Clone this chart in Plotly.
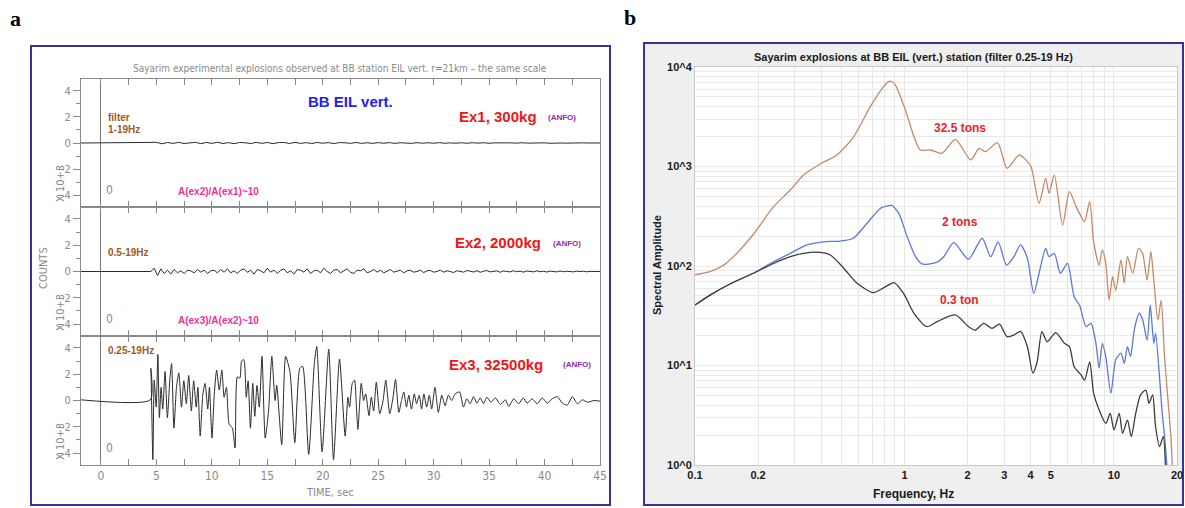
import numpy as np
import plotly.graph_objects as go

W, H = 1185, 508
def px(x): return x / W
def py(y): return 1 - y / H

# ---------------- data: seismograms (time, s ; counts x 10^3) ----------------
pre_t = [-1.8, 4.45]
ex1_pre = [0.0, 0.0]
ex2_pre = [0.0, 0.0]
ex3_pre = [0.05, 0.05]

ex1_t0, ex1_dt = 4.5, 0.5
ex1_amp = [0.0, 0.05, -0.06, 0.04, -0.03, 0.05, -0.04, 0.03, 0.05, -0.05, 0.04, -0.03, 0.06, -0.04,
           0.03, -0.05, 0.04, 0.02, -0.04, 0.05, -0.03, 0.04, -0.05, 0.03, 0.04, -0.04, 0.05, -0.03,
           0.03, -0.04, 0.04, -0.02, 0.03, -0.04, 0.03, 0.02, -0.03, 0.04, -0.03, 0.02, -0.03, 0.03,
           -0.02, 0.03, -0.03, 0.02, 0.02, -0.03, 0.03, -0.02, 0.02, -0.02, 0.03, -0.02, 0.01, -0.02,
           0.02, -0.02, 0.02, -0.01, 0.02, -0.02, 0.01, 0.02, -0.02, 0.01, -0.01, 0.02, -0.01, 0.01,
           -0.01, 0.01, -0.02, 0.01, 0.0, -0.01, 0.01, -0.01, 0.01, 0.0, -0.01, 0.0]

ex2_t0, ex2_dt = 4.5, 0.3
ex2_amp = [0.0, 0.25, -0.3, 0.2, -0.15, 0.1, -0.2, 0.15, -0.1, 0.05, -0.15, 0.1, 0.05, -0.1, 0.15,
           -0.05, 0.1, -0.15, 0.05, 0.1, -0.1, 0.15, -0.05, 0.2, -0.1, 0.05, -0.15, 0.1, 0.2, -0.05,
           0.1, -0.2, 0.15, 0.05, -0.1, 0.25, -0.05, 0.1, -0.15, 0.1, 0.2, -0.1, 0.05, -0.2, 0.15,
           0.1, -0.05, 0.2, -0.15, 0.05, 0.1, -0.1, 0.25, 0.0, -0.15, 0.1, 0.15, -0.1, 0.05, 0.2,
           -0.05, -0.15, 0.1, 0.05, 0.2, -0.1, 0.0, 0.15, -0.05, 0.1, -0.1, 0.05, 0.15, -0.05, 0.0,
           0.1, -0.1, 0.05, 0.1, -0.05, 0.0, 0.1, -0.08, 0.05, 0.08, -0.05, 0.0, 0.1, -0.05, 0.05,
           0.0, -0.08, 0.06, 0.03, -0.05, 0.08, 0.0, -0.04, 0.06, -0.06, 0.02, 0.07, -0.03, 0.0,
           0.05, -0.06, 0.04, 0.0, -0.03, 0.06, -0.02, 0.03, -0.05, 0.04, 0.0, -0.03, 0.05, -0.02,
           0.02, -0.04, 0.03, 0.0, -0.03, 0.04, -0.02, 0.02, 0.0, -0.03, 0.03, -0.01, 0.02, -0.02,
           0.01, 0.0, -0.01, 0.0]

ex3_t = [4.50, 4.68, 4.80, 4.98, 5.13, 5.27, 5.42, 5.57, 5.78, 5.99, 6.22, 6.37, 6.58, 6.81, 7.02,
         7.26, 7.47, 7.70, 7.91, 8.15, 8.36, 8.59, 8.74, 8.95, 9.19, 9.39, 9.63, 9.78, 10.01, 10.22,
         10.43, 10.67, 10.90, 11.11, 11.32, 11.56, 11.85, 12.09, 12.30, 12.53, 12.68, 12.89, 13.10,
         13.27, 13.48, 13.69, 13.87, 14.07, 14.28, 14.52, 14.81, 15.11, 15.41, 15.70, 15.85, 16.30,
         16.65, 17.04, 17.48, 17.93, 18.19, 18.73, 19.24, 19.46, 19.94, 20.54, 20.97, 21.51, 22.02,
         22.27, 22.42, 22.66, 22.87, 23.02, 23.17, 23.47, 23.69, 23.87, 24.17, 24.38, 24.59, 24.83,
         25.14, 25.44, 25.68, 26.04, 26.34, 26.56, 26.86, 27.10, 27.31, 27.55, 27.76, 28.00, 28.25,
         28.46, 28.70, 28.91, 29.12, 29.37, 29.61, 29.82, 30.12, 30.42, 30.73, 31.03, 31.33, 31.63,
         31.93, 32.33, 32.69, 32.99, 33.29, 33.60, 33.90, 34.20, 34.50, 34.80, 35.17, 35.56, 36.01,
         36.47, 36.77, 37.22, 37.67, 38.07, 38.43, 38.88, 39.34, 39.79, 40.24, 40.69, 41.15, 41.60,
         42.05, 42.51, 42.96, 43.41, 43.87, 44.47, 45.00]
ex3_amp = [2.45, -4.5, 1.55, -0.5, 3.5, -1.3, 1.0, -0.65, 2.2, -1.3, 1.7, 2.8, -2.1, 1.0, 2.1,
           -0.5, 1.5, -0.25, 1.9, -0.8, 1.5, -0.5, 1.0, -2.7, 0.5, 1.3, -0.65, 1.0, -2.85, 0.5,
           2.3, 0.8, 2.3, 0.25, 1.0, -1.8, -2.1, -3.6, 1.8, 1.7, 3.0, 3.1, 0.25,
           1.5, -2.1, 1.3, -1.2, 1.15, -0.5, 3.35, -2.85, -0.8, 3.35, 0.0, 1.15, -3.35,
           3.35, 2.2, -3.2, 2.45, 2.6, -4.1, 2.8, 4.1, -3.9, 3.9, -4.5, 3.15, -2.7,
           0.25, -0.5, 1.3, 1.55, -0.25, -2.2, 1.3, 0.0, 0.5, -1.15, 0.25, -0.8, 1.4,
           -1.0, 0.0, 1.55, -1.0, 0.25, 1.6, -0.9, 0.0, 0.65, -0.5, 0.4, -0.65, 0.5,
           -0.25, 0.4, -0.65, 0.5, -0.5, 0.4, -0.65, 1.0, -0.9, 0.4, -0.4, 0.4, 0.0,
           0.5, 0.65, -0.5, 0.13, -0.25, 0.3, -0.2, 0.2, -0.25, 0.25, -0.13, 0.2, -0.3,
           0.05, -0.45, 0.13, -0.25, 0.2, -0.2, 0.13, -0.25, 0.2, -0.2, 0.13, 0.3, -0.2,
           -0.35, 0.3, -0.25, 0.05, -0.13, 0.0, -0.05]

# ---------------- data: spectra (Hz, spectral amplitude) ----------------
f_325 = [0.1, 0.118, 0.137, 0.164, 0.197, 0.237, 0.285, 0.33, 0.396, 0.476, 0.57, 0.687, 0.783,
         0.84, 0.87, 0.906, 1.01, 1.11, 1.19, 1.33, 1.51, 1.75, 2.07, 2.27, 2.44, 2.78, 3.09, 3.52,
         3.75, 4.02, 4.39, 4.72, 4.9, 5.19, 5.69, 6.13, 6.6, 6.98, 7.24, 7.66, 8.0, 8.5, 8.8, 9.14,
         9.48, 9.85, 10.2, 10.8, 11.2, 11.6, 12.3, 13.1, 13.7, 14.4, 15.0, 15.5, 16.2, 16.8, 17.4,
         18.0, 18.7, 19.0]
a_325 = [82, 88, 102, 145, 230, 395, 580, 820, 1060, 1305, 1965, 3990, 6110,
         7120, 7150, 6590, 3700, 1995, 1465, 1465, 1357, 1877, 1163, 1523, 1410, 1737, 960, 1305,
         1200, 995, 427, 761, 538, 822, 258, 558, 395, 313, 279, 443, 175, 102, 145, 106,
         45.5, 78, 57, 115, 67, 124, 84.5, 150, 134, 72, 139, 72, 28.7, 45, 13.3,
         5.25, 1.93, 1.0]

f_2 = [0.1, 0.118, 0.147, 0.19, 0.237, 0.285, 0.342, 0.41, 0.494, 0.57, 0.663, 0.769, 0.84, 0.87,
       0.94, 1.03, 1.13, 1.21, 1.41, 1.54, 1.72, 2.02, 2.35, 2.58, 2.8, 3.07, 3.33, 3.58, 3.86,
       4.14, 4.39, 4.72, 4.9, 5.19, 5.55, 6.0, 6.46, 6.85, 7.36, 7.77, 8.2, 8.5, 8.8, 9.14, 9.67,
       10.2, 10.8, 11.2, 11.6, 12.0, 12.5, 13.2, 13.7, 14.4, 14.9, 15.5, 15.8, 16.5, 17.0, 17.4,
       17.9]
a_2 = [40.5, 51, 66, 84.5, 110, 134, 163, 175, 178, 190, 269, 380, 404, 408,
       338, 197, 124, 105, 108, 124, 172, 117, 190, 124, 175, 102, 124, 163, 120,
       53, 84.5, 150, 124, 134, 84.5, 106, 49, 40.5, 24.6, 26.5, 16.7, 9.4, 16.7, 12.3, 5.25,
       11.4, 13.3, 10.5, 15.5, 12.3, 22.7, 33.5, 29, 18, 40.5, 16.7, 21, 7.7, 3.3, 2.08,
       1.0]

f_03 = [0.1, 0.118, 0.147, 0.19, 0.237, 0.285, 0.33, 0.396, 0.443, 0.513, 0.594, 0.71, 0.79, 0.857,
        0.89, 0.99, 1.11, 1.28, 1.43, 1.75, 2.02, 2.18, 2.39, 2.62, 2.84, 3.09, 3.33, 3.58, 3.86,
        4.1, 4.3, 4.53, 4.8, 5.27, 5.8, 6.13, 6.46, 6.98, 7.24, 7.66, 8.0, 8.5, 9.14, 9.6, 10.0,
        10.6, 11.0, 11.6, 12.1, 12.7, 13.4, 14.2, 14.7, 15.3, 15.8, 16.5, 17.2, 17.6]
a_03 = [40.5, 51, 66, 84.5, 106, 124, 134, 137, 129, 95, 67, 54, 60, 66,
        68, 53, 33.5, 24.6, 27.6, 32.2, 24.6, 22.7, 26.5, 23.6, 26, 19.5, 20.2, 22, 15.5,
        8.4, 10.9, 21.9, 17.3, 21.4, 16.7, 15.5, 9.7, 8.0, 7.1, 10.9, 5.25, 3.57, 2.62, 3.3, 2.25,
        3.3, 2.08, 2.83, 1.93, 3.3, 5.07, 5.66, 4.17, 5.07, 2.43, 1.53, 1.93, 1.0]

x_labels = {0.1: "0.1", 0.2: "0.2", 1: "1", 2: "2", 3: "3", 4: "4", 5: "5", 10: "10", 20: "20"}
y_labels = {1: "10^0", 10: "10^1", 100: "10^2", 1000: "10^3", 10000: "10^4"}

# ---------------- figure ----------------
fig = go.Figure()
wave_col = "#2b2b2b"
ex1_t = (ex1_t0 + ex1_dt * np.arange(len(ex1_amp))).tolist()
ex2_t = (ex2_t0 + ex2_dt * np.arange(len(ex2_amp))).tolist()

fig.add_trace(go.Scatter(x=pre_t + ex1_t, y=ex1_pre + ex1_amp, mode="lines",
                         line=dict(color=wave_col, width=1), xaxis="x", yaxis="y"))
fig.add_trace(go.Scatter(x=pre_t + ex2_t, y=ex2_pre + ex2_amp, mode="lines",
                         line=dict(color=wave_col, width=1), xaxis="x2", yaxis="y2"))
fig.add_trace(go.Scatter(x=pre_t + ex3_t, y=ex3_pre + ex3_amp, mode="lines",
                         line=dict(color=wave_col, width=1, shape="spline", smoothing=0.6),
                         xaxis="x3", yaxis="y3"))

for f, a, c in [(f_325, a_325, "#c48a68"), (f_2, a_2, "#5b79d6"), (f_03, a_03, "#3c3c3c")]:
    fig.add_trace(go.Scatter(x=f, y=a, mode="lines",
                             line=dict(color=c, width=1.3, shape="spline", smoothing=0.7),
                             xaxis="x4", yaxis="y4"))

gray = "#8a8a8a"
narrow = "Liberation Sans Narrow, DejaVu Sans Condensed, Arial Narrow, sans-serif"
panel_px = [(79, 207), (207, 336), (336, 465)]

layout = dict(width=W, height=H, margin=dict(l=0, r=0, t=0, b=0, autoexpand=False),
              paper_bgcolor="white", plot_bgcolor="white", showlegend=False)

for i, (top, bot) in enumerate(panel_px, start=1):
    xs = "" if i == 1 else str(i)
    layout["xaxis" + xs] = dict(
        domain=[px(81), px(600)], range=[-1.8, 45], anchor="y" + xs, automargin=False,
        showline=True, linecolor=gray, linewidth=1, mirror="allticks",
        ticks="inside", tick0=0, dtick=5, ticklen=6, tickcolor=gray,
        minor=dict(dtick=2.5, tick0=0, ticks="inside", ticklen=6, tickcolor=gray),
        showticklabels=(i == 3), tickfont=dict(family=narrow, size=12, color=gray),
        showgrid=False, zeroline=True, zerolinecolor="#777", zerolinewidth=1)
    layout["yaxis" + xs] = dict(
        domain=[py(bot), py(top)], range=[-4.9, 4.9], anchor="x" + xs, automargin=False,
        showline=True, linecolor=gray, linewidth=1, mirror=True,
        ticks="outside", tickvals=[-4, -2, 0, 2, 4], ticklen=7, tickcolor=gray,
        minor=dict(tickvals=[-3, -1, 1, 3], ticks="outside", ticklen=4, tickcolor=gray),
        tickfont=dict(family=narrow, size=11, color=gray),
        showgrid=False, zeroline=False)
    layout["yaxis" + str(4 + i)] = dict(
        overlaying="y" + xs, anchor="x" + xs, side="right", range=[-4.9, 4.9], automargin=False,
        ticks="inside", dtick=1, tick0=0, ticklen=6, tickcolor=gray,
        showticklabels=False, showline=False, showgrid=False, zeroline=False)

xgrid = [m * 10.0 ** e for e in (-1, 0) for m in range(1, 10)] + [10, 20]
ygrid = [m * 10.0 ** e for e in range(0, 4) for m in range(1, 10)] + [10000]
bold = dict(family="Liberation Sans, Arial, sans-serif", size=11, color="#1a1a1a", weight="bold")
layout["xaxis4"] = dict(
    type="log", domain=[px(695), px(1177)], range=[-1, np.log10(20)], anchor="y4", automargin=False,
    tickvals=xgrid, ticktext=[x_labels.get(round(v, 3) if v < 1 else int(round(v)), "") for v in xgrid],
    ticks="", tickfont=bold, showgrid=True, gridcolor="#e6e6e6", gridwidth=1,
    showline=True, linecolor="#c9c9c9", mirror=True, zeroline=False)
layout["yaxis4"] = dict(
    type="log", domain=[py(465), py(67)], range=[0, 4], anchor="x4", automargin=False,
    tickvals=ygrid, ticktext=[y_labels.get(int(round(v)), "") for v in ygrid],
    ticks="", tickfont=bold, showgrid=True, gridcolor="#e9e9e9", gridwidth=1,
    showline=True, linecolor="#c9c9c9", mirror=True, zeroline=False)

fig.update_layout(**layout)

# frames / backgrounds
navy = "#34349a"
fig.add_shape(type="rect", xref="paper", yref="paper", x0=px(644), x1=px(1183), y0=py(505), y1=py(43),
              fillcolor="#efefef", line=dict(color=navy, width=2), layer="below")
fig.add_shape(type="rect", xref="paper", yref="paper", x0=px(695), x1=px(1177), y0=py(465), y1=py(67),
              fillcolor="white", line=dict(width=0), layer="below")
fig.add_shape(type="rect", xref="paper", yref="paper", x0=px(31), x1=px(610), y0=py(505), y1=py(46),
              fillcolor="rgba(0,0,0,0)", line=dict(color=navy, width=2), layer="above")

def ann(x, y, text, size, color, family="Liberation Sans, Arial, sans-serif", weight="normal",
        xanchor="center", angle=0):
    fig.add_annotation(xref="paper", yref="paper", x=px(x), y=py(y), text=text, showarrow=False,
                       xanchor=xanchor, yanchor="middle", textangle=angle,
                       font=dict(family=family, size=size, color=color, weight=weight))

serif = "Liberation Serif, Times New Roman, serif"
ann(15, 18, "a", 22, "black", family=serif, weight="bold")
ann(630, 17, "b", 22, "black", family=serif, weight="bold")

# left panel texts
ann(340, 69, "Sayarim experimental explosions observed at BB station EIL vert. r=21km \u2013 the same scale",
    10, gray, family=narrow)
ann(350, 102, "BB EIL vert.", 15, "#2323e8", weight="bold")
brown = "#9a5b22"
pink = "#f0309a"
red = "#f01515"
purple = "#8e2aa8"
ann(106, 117, "filter", 10, brown, weight="bold", xanchor="left")
ann(106, 129, "1-19Hz", 10, brown, weight="bold", xanchor="left")
ann(106, 252, "0.5-19Hz", 10, brown, weight="bold", xanchor="left")
ann(106, 350, "0.25-19Hz", 10, brown, weight="bold", xanchor="left")
ann(498, 116, "Ex1, 300kg", 15, red, weight="bold")
ann(562, 117, "(ANFO)", 8, purple, weight="bold")
ann(498, 242, "Ex2, 2000kg", 15, red, weight="bold")
ann(567, 243, "(ANFO)", 8, purple, weight="bold")
ann(496, 364, "Ex3, 32500kg", 15, red, weight="bold")
ann(577, 364, "(ANFO)", 8, purple, weight="bold")
ann(218, 191, "A(ex2)/A(ex1)~10", 10, pink, weight="bold")
ann(218, 320, "A(ex3)/A(ex2)~10", 10, pink, weight="bold")
for yy in (190, 319, 448):
    ann(109, yy, "0", 12, gray, family=narrow)
for yy in (184, 313, 442):
    ann(60, yy, "X 10+3", 11, gray, family=narrow, angle=-90)
ann(43, 268, "COUNTS", 11, gray, family=narrow, angle=-90)
ann(330, 492, "TIME, sec", 11, gray, family=narrow)

# right panel texts
ann(913, 57, "Sayarim explosions at BB EIL (vert.) station (filter 0.25-19 Hz)", 11, "#1a1a1a", weight="bold")
ann(657, 265, "Spectral Amplitude", 11, "#1a1a1a", weight="bold", angle=-90)
ann(913, 494, "Frequency, Hz", 12, "#1a1a1a", weight="bold")
ann(960, 128, "32.5 tons", 12, "#e8232a", weight="bold")
ann(960, 222, "2 tons", 12, "#e8232a", weight="bold")
ann(959, 300, "0.3 ton", 12, "#e8232a", weight="bold")

fig.write_html("out.html")
